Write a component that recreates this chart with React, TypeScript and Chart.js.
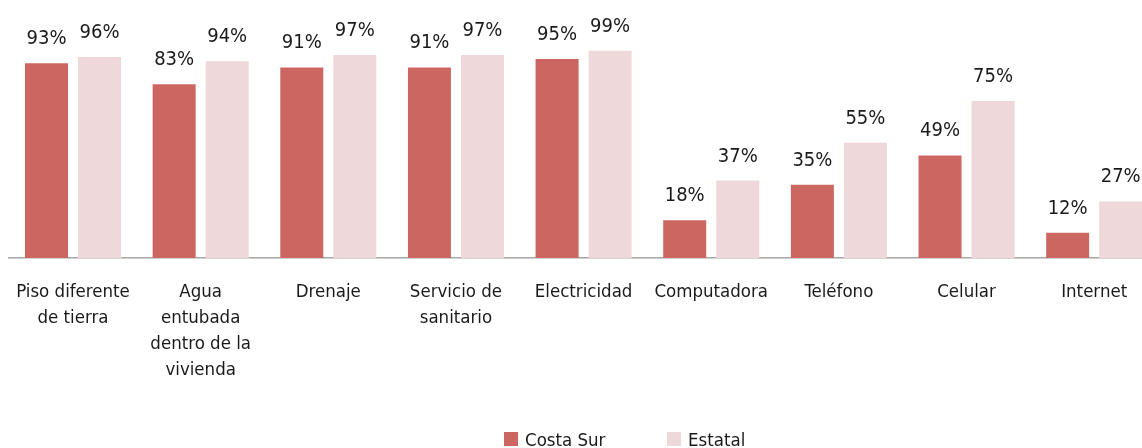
import React, { useEffect, useRef } from "react";
import { Chart, registerables } from "chart.js";

Chart.register(...registerables);

const categories: string[][] = [
  ["Piso diferente", "de tierra"],
  ["Agua", "entubada", "dentro de la", "vivienda"],
  ["Drenaje"],
  ["Servicio de", "sanitario"],
  ["Electricidad"],
  ["Computadora"],
  ["Teléfono"],
  ["Celular"],
  ["Internet"],
];
const seriesNames = ["Costa Sur", "Estatal"];
const costaSur = [93, 83, 91, 91, 95, 18, 35, 49, 12];
const estatal = [96, 94, 97, 97, 99, 37, 55, 75, 27];
const colors = ["#CC6661", "#EED8DA"];

const FONT = "'DejaVu Sans Condensed', 'Liberation Sans Narrow', sans-serif";

const valueLabels = {
  id: "valueLabels",
  afterDatasetsDraw(chart: any) {
    const ctx = chart.ctx;
    ctx.save();
    ctx.font = `20px ${FONT}`;
    ctx.fillStyle = "#1a1a1a";
    ctx.textAlign = "center";
    ctx.textBaseline = "alphabetic";
    chart.data.datasets.forEach((ds: any, di: number) => {
      const meta = chart.getDatasetMeta(di);
      meta.data.forEach((bar: any, i: number) => {
        ctx.fillText(`${ds.data[i]}%`, bar.x, bar.y - 19);
      });
    });
    ctx.restore();
  },
};

const customLegend = {
  id: "customLegend",
  afterDraw(chart: any) {
    const ctx = chart.ctx;
    ctx.save();
    ctx.font = `18.5px ${FONT}`;
    ctx.textAlign = "left";
    ctx.textBaseline = "alphabetic";
    const starts = [504, 667];
    chart.data.datasets.forEach((ds: any, di: number) => {
      const x = starts[di];
      ctx.fillStyle = ds.backgroundColor;
      ctx.fillRect(x, 432, 14, 14);
      ctx.fillStyle = "#1a1a1a";
      ctx.fillText(ds.label, x + 21, 446);
    });
    ctx.restore();
  },
};

export default function App() {
  const ref = useRef<HTMLCanvasElement>(null);
  useEffect(() => {
    if (!ref.current) return;
    const chart = new Chart(ref.current, {
      type: "bar",
      data: {
        labels: categories,
        datasets: [
          { label: seriesNames[0], data: costaSur, backgroundColor: colors[0] },
          { label: seriesNames[1], data: estatal, backgroundColor: colors[1] },
        ],
      },
      options: {
        animation: false,
        responsive: false,
        maintainAspectRatio: false,
        layout: { padding: { top: 48.6, left: 9.2, right: 0, bottom: 0 } },
        datasets: { bar: { categoryPercentage: 0.831, barPercentage: 0.811 } },
        plugins: {
          legend: { display: false },
          tooltip: { enabled: false },
        },
        scales: {
          x: {
            grid: { display: false, drawTicks: false },
            border: { display: true, color: "#A6A6A6", width: 1.5 },
            ticks: {
              color: "#1a1a1a",
              font: { family: FONT, size: 18.5, lineHeight: 1.405 },
              padding: 21,
              maxRotation: 0,
              autoSkip: false,
            },
            afterFit: (scale: any) => {
              scale.height = 190;
              scale.paddingLeft = 0;
              scale.paddingRight = 0;
            },
          },
          y: { display: false, min: 0, max: 100 },
        },
      },
      plugins: [valueLabels, customLegend],
    });
    return () => chart.destroy();
  }, []);
  return (
    <div style={{ position: "fixed", left: 0, top: 0, width: 1142, height: 448, overflow: "hidden", background: "#fff" }}>
      <canvas ref={ref} width={1158} height={448} style={{ width: 1158, height: 448, display: "block" }} />
    </div>
  );
}
